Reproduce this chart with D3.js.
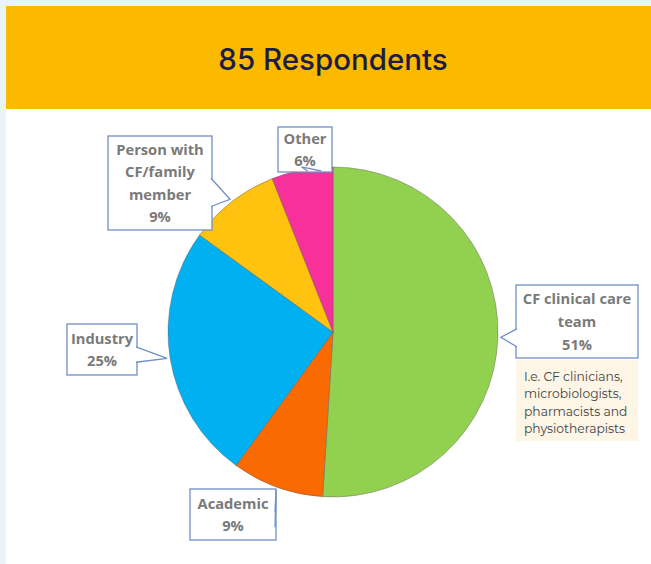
<!DOCTYPE html>
<html>
<head>
<meta charset="utf-8">
<script src="https://cdn.jsdelivr.net/npm/d3@7"></script>
<style>
  body { margin: 0; background: #eaf2fa; }
  svg { display: block; }
</style>
</head>
<body>
<div id="chart"></div>
<script>
// Respondent groups (clockwise from 12 o'clock)
const groups = ["CF clinical care team", "Academic", "Industry", "Person with CF/family member", "Other"];
const shares = [51, 9, 25, 9, 6];
const colours = ["#92d050", "#fa6a02", "#00b0f0", "#ffc20e", "#f7309a"];
// callout text lines per slice (label wrapped as in the original)
const calloutLines = [
    ["CF clinical  care", "team"],
    ["Academic"],
    ["Industry"],
    ["Person with", "CF/family", "member"],
    ["Other"]
];
const noteLines = ["I.e. CF clinicians,", "microbiologists,", "pharmacists and", "physiotherapists"];
const title = "85 Respondents";

// layout of the callout boxes: [x, y, w, h]
const boxes = [
    [516, 285, 122, 73],
    [190, 489, 86, 51],
    [67, 324, 70, 51],
    [108, 136, 104, 94],
    [278, 127, 54, 45]
];

const width = 651;
const height = 564;
const cx = 333, cy = 332, radius = 165;

const svg = d3.select("#chart").append("svg")
    .attr("width", width)
    .attr("height", height);

// page panels
svg.append("rect").attr("x", 6).attr("y", 6).attr("width", width - 6).attr("height", height - 6).attr("fill", "#fff");
svg.append("rect").attr("x", 6).attr("y", 6).attr("width", width - 6).attr("height", 103).attr("fill", "#fbb900");
svg.append("text")
    .attr("x", 333).attr("y", 70)
    .attr("text-anchor", "middle")
    .attr("font-family", "Inter, sans-serif")
    .attr("font-weight", 500)
    .attr("font-size", 29.5)
    .attr("fill", "#1b1d45")
    .text(title);

const data = groups.map((g, i) => ({group: g, share: shares[i], i}));

const pie = d3.pie().sort(null).value(d => d.share);
const arc = d3.arc().innerRadius(0).outerRadius(radius);
const arcs = pie(data);

const g = svg.append("g").attr("transform", `translate(${cx},${cy})`);
g.selectAll("path")
    .data(arcs)
    .join("path")
    .attr("d", arc)
    .attr("fill", d => colours[d.data.i])
    .attr("stroke", "#555")
    .attr("stroke-width", 0.4);

// callouts
const font = "'Open Sans', 'Liberation Sans', sans-serif";
arcs.forEach(a => {
    const i = a.data.i;
    const [bx, by, bw, bh] = boxes[i];
    const mid = (a.startAngle + a.endAngle) / 2;
    const tx = cx + (radius + 3) * Math.sin(mid);
    const ty = cy - (radius + 3) * Math.cos(mid);

    // pointer polygon: base on the box edge closest to the tip
    let base;
    if (tx > bx + bw && ty > by && ty < by + bh) {
        base = [[bx + bw - 1, by + bh * 0.45], [bx + bw - 1, by + bh * 0.75]];
    } else if (tx < bx) {
        base = [[bx + 1, by + bh * 0.6], [bx + 1, by + bh * 0.85]];
    } else if (ty < by) {
        base = [[bx + bw - 14, by + 1], [bx + bw - 1, by + 12]];
    } else {
        base = [[bx + bw * 0.55, by + bh - 1], [bx + bw * 0.8, by + bh - 1]];
    }
    const cg = svg.append("g");
    cg.append("rect")
        .attr("x", bx).attr("y", by).attr("width", bw).attr("height", bh)
        .attr("fill", "#fff")
        .attr("stroke", "#6f8fc4")
        .attr("stroke-width", 1.3);
    cg.append("path")
        .attr("d", `M${base[0][0]},${base[0][1]}L${tx},${ty}L${base[1][0]},${base[1][1]}`)
        .attr("fill", "#fff")
        .attr("stroke", "#6f8fc4")
        .attr("stroke-width", 1.3);

    const lines = calloutLines[i].concat([a.data.share + "%"]);
    const lh = i === 0 ? 23 : 22.3;
    const startY = by + bh / 2 - (lines.length - 1) * lh / 2 + 5.5;
    cg.append("text")
        .attr("text-anchor", "middle")
        .attr("font-family", font)
        .attr("font-weight", 700)
        .attr("font-size", 14.7)
        .attr("fill", "#7a7a7a")
        .selectAll("tspan")
        .data(lines)
        .join("tspan")
        .attr("x", bx + bw / 2)
        .attr("y", (d, k) => startY + k * lh)
        .text(d => d);
});

// explanatory note under the CF clinical care team callout
const nb = boxes[0];
svg.append("rect")
    .attr("x", nb[0]).attr("y", nb[1] + nb[3] + 2)
    .attr("width", nb[2]).attr("height", 81)
    .attr("fill", "#fdf5e6");
svg.append("text")
    .attr("font-family", "Montserrat, 'Open Sans', sans-serif")
    .attr("font-size", 12.3)
    .attr("fill", "#444")
    .selectAll("tspan")
    .data(noteLines)
    .join("tspan")
    .attr("x", nb[0] + 8)
    .attr("y", (d, k) => nb[1] + nb[3] + 23 + k * 17.3)
    .text(d => d);
</script>
</body>
</html>
